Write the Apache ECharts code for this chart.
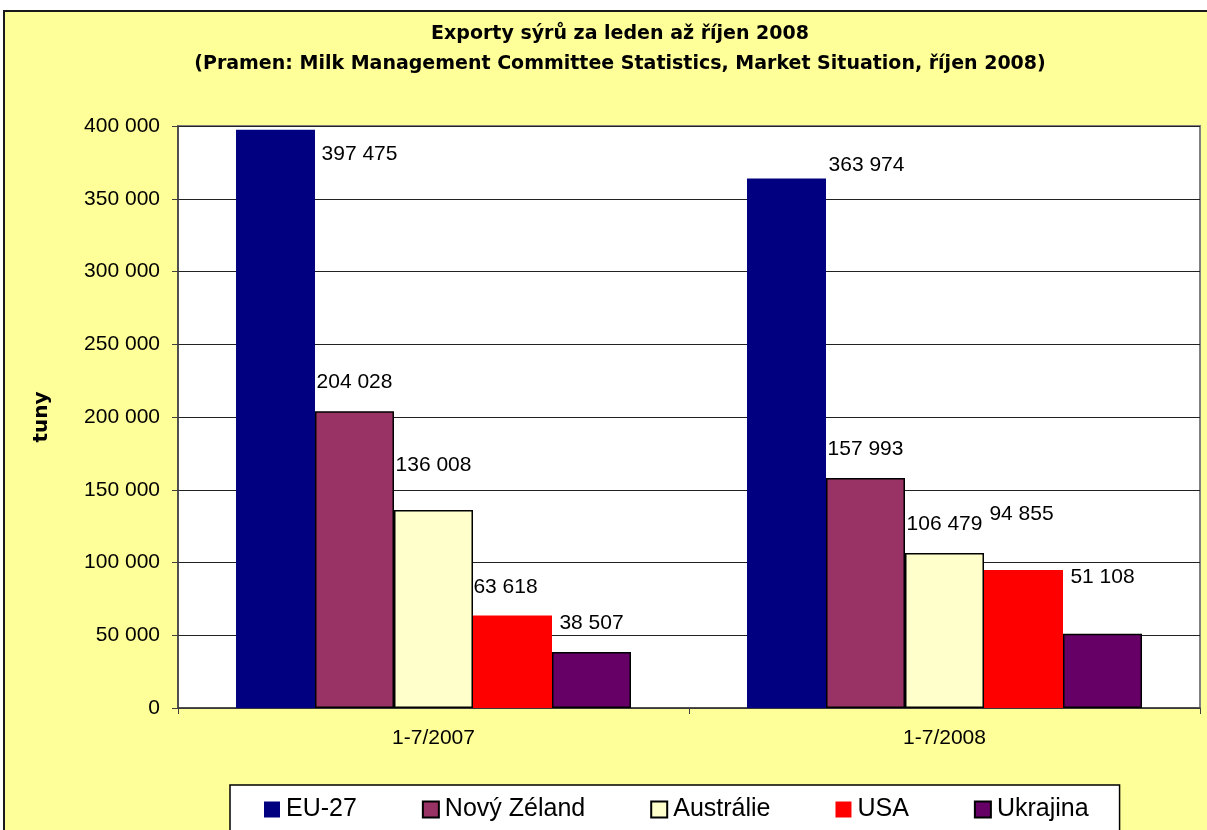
<!DOCTYPE html>
<html>
<head>
<meta charset="utf-8">
<script src="https://cdn.jsdelivr.net/npm/echarts@6/dist/echarts.min.js"></script>
<style>
  html, body { margin: 0; padding: 0; background: #ffffff; }
  #chart { width: 1207px; height: 830px; }
</style>
</head>
<body>
<div id="chart"></div>
<script>
const titleLines = ['Exporty sýrů za leden až říjen 2008', '(Pramen: Milk Management Committee Statistics, Market Situation, říjen 2008)'];
const categories = ['1-7/2007', '1-7/2008'];
const seriesNames = ['EU-27', 'Nový Zéland', 'Austrálie', 'USA', 'Ukrajina'];
const euValues = [397475, 363974];
const nzValues = [204028, 157993];
const auValues = [136008, 106479];
const usaValues = [63618, 94855];
const uaValues = [38507, 51108];
const yTicks = [0, 50000, 100000, 150000, 200000, 250000, 300000, 350000, 400000];

const seriesValues = [euValues, nzValues, auValues, usaValues, uaValues];
const colors = ['#000080', '#993366', '#FFFFCC', '#FF0000', '#660066'];
const borders = [0, 1.5, 1.5, 0, 1.5];
// label offsets [dx, dy] per series per category (manually placed labels in original)
const labelOffsets = [
  [[84, 53], [80, 15]],
  [[0, 0], [0, 0]],
  [[0, -16], [0, 0]],
  [[-7, 0], [-2, -27]],
  [[0, 0], [0, -28]]
];

function fmt(v) {
  return String(v).replace(/\B(?=(\d{3})+(?!\d))/g, ' ');
}

const FONT = '"Liberation Sans", Arial, sans-serif';

const series = seriesNames.map((name, si) => ({
  name: name,
  type: 'bar',
  barGap: '0%',
  barCategoryGap: '22.7%',
  itemStyle: {
    color: colors[si],
    borderColor: '#000000',
    borderWidth: borders[si]
  },
  label: {
    show: true,
    position: 'top',
    distance: 18,
    fontFamily: FONT,
    fontSize: 21,
    color: '#000000',
    formatter: p => fmt(p.value)
  },
  data: seriesValues[si].map((v, ci) => ({
    value: v,
    label: { offset: labelOffsets[si][ci] }
  }))
}));

const chart = echarts.init(document.getElementById('chart'), null, { renderer: 'canvas' });
chart.setOption({
  backgroundColor: '#ffffff',
  animation: false,
  graphic: [{
    type: 'rect',
    z: -10,
    silent: true,
    shape: { x: 4, y: 11, width: 1260, height: 900 },
    style: { fill: '#FFFF99', stroke: '#1a1a1a', lineWidth: 2 }
  }],
  title: {
    text: titleLines.join('\n'),
    left: 615,
    textAlign: 'center',
    top: 14,
    textStyle: {
      fontFamily: '"DejaVu Sans", sans-serif',
      fontWeight: 'bold',
      fontSize: 19,
      lineHeight: 30,
      color: '#000000'
    }
  },
  legend: {
    data: seriesNames,
    left: 230,
    top: 785,
    padding: [12, 31, 40, 34],
    itemGap: 65,
    itemWidth: 16,
    itemHeight: 16,
    icon: 'rect',
    backgroundColor: '#ffffff',
    borderColor: '#000000',
    borderWidth: 1.5,
    borderRadius: 0,
    textStyle: { fontFamily: FONT, fontSize: 25, color: '#000000', padding: [0, 0, 0, 1] }
  },
  grid: {
    left: 178,
    right: 7,
    top: 126,
    bottom: 122,
    show: true,
    backgroundColor: '#ffffff',
    borderColor: '#808080',
    borderWidth: 2
  },
  xAxis: {
    type: 'category',
    data: categories,
    axisLine: { show: true, lineStyle: { color: '#404040', width: 1.5 } },
    axisTick: { show: true, length: 6, alignWithLabel: false, lineStyle: { color: '#404040' } },
    axisLabel: { fontFamily: FONT, fontSize: 21, color: '#000000', margin: 20 },
    splitLine: { show: false }
  },
  yAxis: {
    type: 'value',
    min: yTicks[0],
    max: yTicks[yTicks.length - 1],
    interval: yTicks[1] - yTicks[0],
    name: 'tuny',
    nameLocation: 'middle',
    nameGap: 126,
    nameRotate: 90,
    nameTextStyle: { fontFamily: '"DejaVu Sans", sans-serif', fontWeight: 'bold', fontSize: 20, color: '#000000' },
    axisLine: { show: true, lineStyle: { color: '#404040', width: 1.5 } },
    axisTick: { show: true, length: 6, lineStyle: { color: '#404040' } },
    axisLabel: { fontFamily: FONT, fontSize: 21, color: '#000000', margin: 18, formatter: v => fmt(v) },
    splitLine: { show: true, lineStyle: { color: '#222222', width: 1 } }
  },
  series: series
});
</script>
</body>
</html>
